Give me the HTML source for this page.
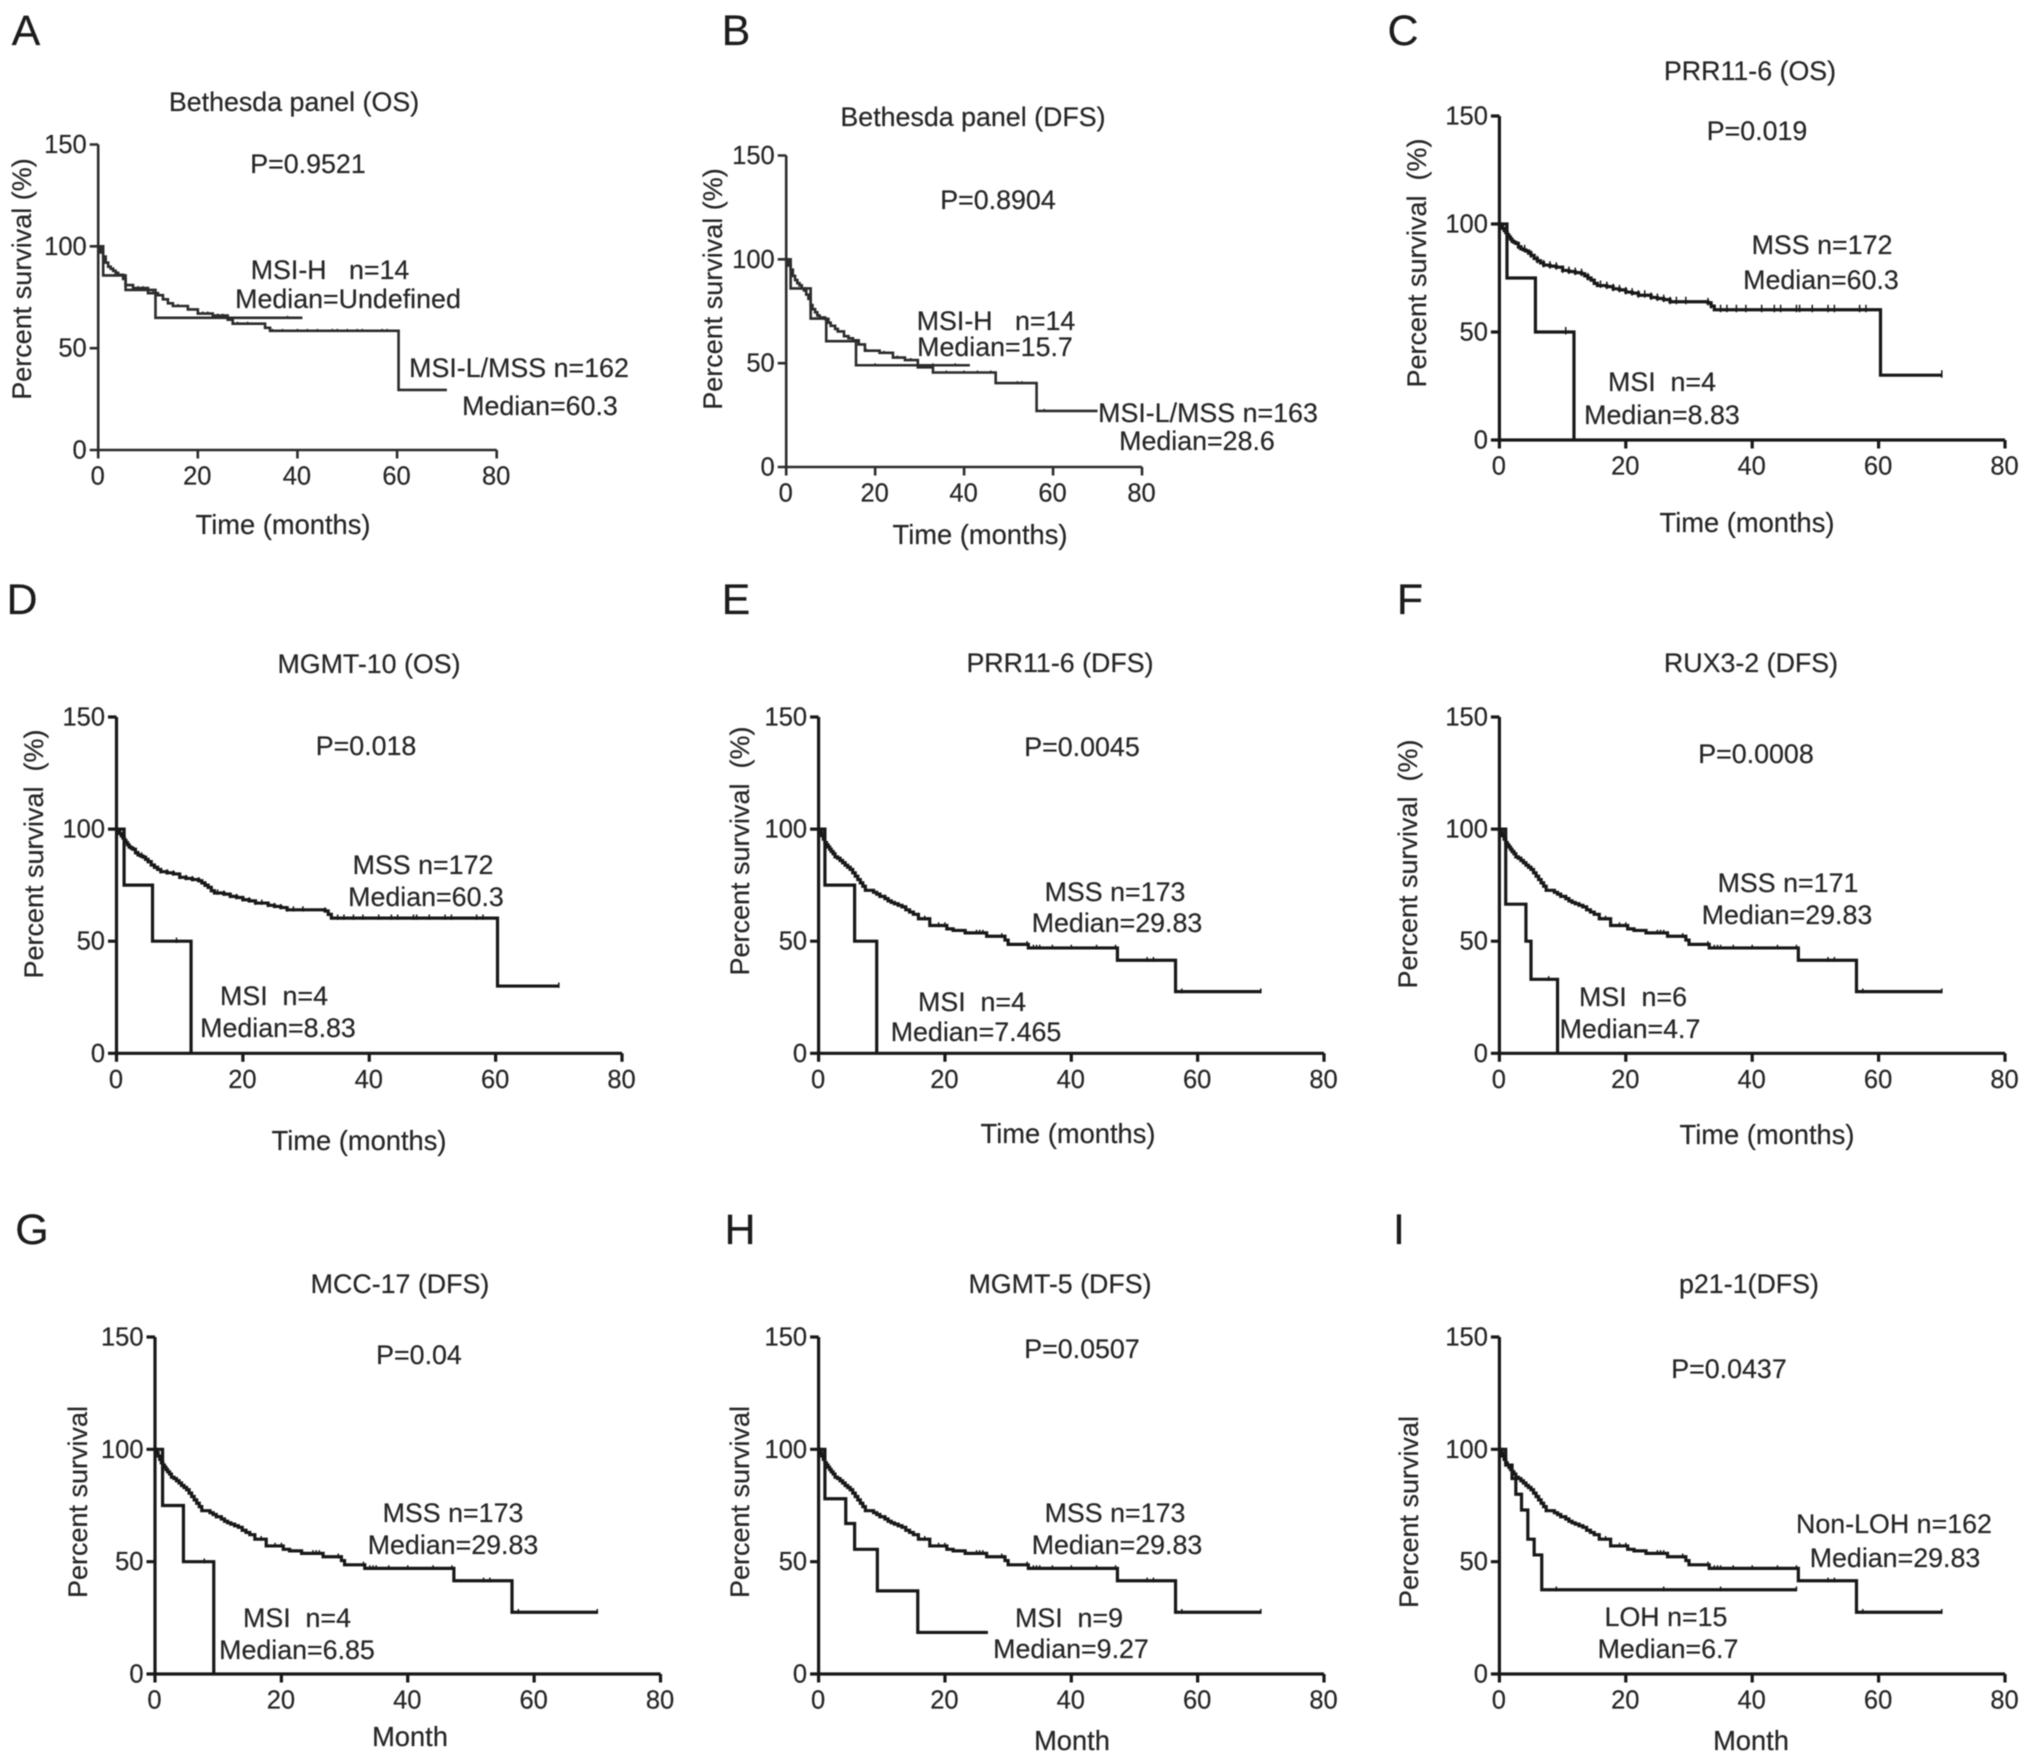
<!DOCTYPE html>
<html lang="en">
<head>
<meta charset="utf-8">
<title>Kaplan-Meier survival panels</title>
<style>
html,body{margin:0;padding:0;background:#fff;}
#figure{display:block;width:2031px;height:1762px;filter:blur(0.6px);}
text{font-family:"Liberation Sans",Arial,sans-serif;fill:#262626;font-size:26.8px;text-anchor:middle;stroke:#262626;stroke-width:0.2px;}
.letter{font-size:43px;fill:#1c1c1c;}
.ytitle{font-size:27px;}
.xtitle{font-size:27.3px;}
.tick-label{font-size:25.5px;}
</style>
</head>
<body>
<svg id="figure" xmlns="http://www.w3.org/2000/svg" width="2031" height="1762" viewBox="0 0 2031 1762">
<rect width="2031" height="1762" fill="#fff"/>
<g id="marks"></g>

<g>
<text class="letter" x="26" y="45">A</text>
<text x="294" y="111">Bethesda panel (OS)</text>
<text x="308" y="173">P=0.9521</text>
<text x="330" y="279">MSI-H&#160;&#160; n=14</text>
<text x="348" y="308">Median=Undefined</text>
<text x="519" y="377">MSI-L/MSS n=162</text>
<text x="540" y="415">Median=60.3</text>
<text class="xtitle" x="283" y="534">Time (months)</text>
<text class="ytitle" transform="translate(31,279) rotate(-90)">Percent survival (%)</text>
</g>

<g>
<text class="letter" x="736" y="45">B</text>
<text x="973" y="126">Bethesda panel (DFS)</text>
<text x="998" y="209">P=0.8904</text>
<text x="996" y="330">MSI-H&#160;&#160; n=14</text>
<text x="995" y="356">Median=15.7</text>
<text x="1208" y="422">MSI-L/MSS n=163</text>
<text x="1197" y="450">Median=28.6</text>
<text class="xtitle" x="980" y="544">Time (months)</text>
<text class="ytitle" transform="translate(722,289) rotate(-90)">Percent survival (%)</text>
</g>

<g>
<text class="letter" x="1403" y="45">C</text>
<text x="1750" y="80">PRR11-6 (OS)</text>
<text x="1757" y="140">P=0.019</text>
<text x="1822" y="254">MSS n=172</text>
<text x="1821" y="289">Median=60.3</text>
<text x="1662" y="391">MSI&#160; n=4</text>
<text x="1662" y="424">Median=8.83</text>
<text class="xtitle" x="1747" y="532">Time (months)</text>
<text class="ytitle" transform="translate(1426,263) rotate(-90)">Percent survival&#160; (%)</text>
</g>

<g>
<text class="letter" x="22" y="614">D</text>
<text x="369" y="673">MGMT-10 (OS)</text>
<text x="366" y="755">P=0.018</text>
<text x="423" y="874">MSS n=172</text>
<text x="426" y="906">Median=60.3</text>
<text x="274" y="1005">MSI&#160; n=4</text>
<text x="278" y="1037">Median=8.83</text>
<text class="xtitle" x="359" y="1150">Time (months)</text>
<text class="ytitle" transform="translate(43,854) rotate(-90)">Percent survival&#160; (%)</text>
</g>

<g>
<text class="letter" x="736" y="614">E</text>
<text x="1060" y="672">PRR11-6 (DFS)</text>
<text x="1082" y="756">P=0.0045</text>
<text x="1115" y="901">MSS n=173</text>
<text x="1117" y="932">Median=29.83</text>
<text x="972" y="1011">MSI&#160; n=4</text>
<text x="976" y="1041">Median=7.465</text>
<text class="xtitle" x="1068" y="1143">Time (months)</text>
<text class="ytitle" transform="translate(749,851) rotate(-90)">Percent survival&#160; (%)</text>
</g>

<g>
<text class="letter" x="1410" y="614">F</text>
<text x="1751" y="672">RUX3-2 (DFS)</text>
<text x="1756" y="763">P=0.0008</text>
<text x="1788" y="892">MSS n=171</text>
<text x="1787" y="924">Median=29.83</text>
<text x="1633" y="1006">MSI&#160; n=6</text>
<text x="1630" y="1038">Median=4.7</text>
<text class="xtitle" x="1767" y="1144">Time (months)</text>
<text class="ytitle" transform="translate(1417,864) rotate(-90)">Percent survival&#160; (%)</text>
</g>

<g>
<text class="letter" x="32" y="1244">G</text>
<text x="400" y="1293">MCC-17 (DFS)</text>
<text x="419" y="1364">P=0.04</text>
<text x="453" y="1522">MSS n=173</text>
<text x="453" y="1554">Median=29.83</text>
<text x="297" y="1627">MSI&#160; n=4</text>
<text x="297" y="1659">Median=6.85</text>
<text class="xtitle" x="410" y="1746">Month</text>
<text class="ytitle" transform="translate(87,1502) rotate(-90)">Percent survival</text>
</g>

<g>
<text class="letter" x="740" y="1244">H</text>
<text x="1060" y="1293">MGMT-5 (DFS)</text>
<text x="1082" y="1358">P=0.0507</text>
<text x="1115" y="1522">MSS n=173</text>
<text x="1117" y="1554">Median=29.83</text>
<text x="1069" y="1627">MSI&#160; n=9</text>
<text x="1071" y="1658">Median=9.27</text>
<text class="xtitle" x="1072" y="1750">Month</text>
<text class="ytitle" transform="translate(749,1502) rotate(-90)">Percent survival</text>
</g>

<g>
<text class="letter" x="1399" y="1244">I</text>
<text x="1749" y="1293">p21-1(DFS)</text>
<text x="1729" y="1378">P=0.0437</text>
<text x="1894" y="1533">Non-LOH n=162</text>
<text x="1895" y="1567">Median=29.83</text>
<text x="1666" y="1626">LOH n=15</text>
<text x="1668" y="1658">Median=6.7</text>
<text class="xtitle" x="1751" y="1750">Month</text>
<text class="ytitle" transform="translate(1418,1512) rotate(-90)">Percent survival</text>
</g>
</svg>

<script>
// ---- tick labels ----
const xTickValues = [0, 20, 40, 60, 80];
const yTickValues = [0, 50, 100, 150];

// ---- survival series: event time (months) and survival (%) after the event ----
const osMssTime = [0,0.25,0.5,0.75,1,1.25,1.5,1.75,2,2.3,2.6,3,3.4,3.8,4.2,4.6,5,5.5,6,6.5,7,8,9,10,11,12,13,13.5,14,14.5,15,15.5,17,18,19,20,21,22,24,25,26,27,33,33.5,34,60.3,70];
const osMssSurvival = [100,99,98,97,96,95,94,93,92,91.5,91,89.5,88.5,88,87.5,86.5,85.5,84,83,82,81,80.5,80,78.5,78,77.5,77,76,75,74,72.5,71.5,71,70,69.5,68.5,68,67,66,65.5,65,64,63.5,62,60.3,30,30];
const osMssCensor = [3,4,5,6,7,8,9,10,11,12,13,14,16,17,18,19,20,21,22,23,24,25,26,27,28,29.5,33,33.5,35,36,37.5,39,41.5,43.5,44.5,47,47.5,49.5,52,53,57,58,70];

const dfsMssTime = [0,0.25,0.5,0.75,1,1.25,1.5,1.75,2,2.3,2.6,3,3.4,3.8,4.2,4.6,5,5.4,5.8,6.2,6.6,7,7.4,8.7,9.2,9.7,10.5,11,11.5,12,12.6,13.2,13.8,14.4,15,15.8,17.6,20.3,21.3,23.2,26.6,29.5,30,33.2,47.3,56.5,70];
const dfsMssSurvival = [100,98.5,97,95.5,94,93,92,91,90,89,87.6,87,86,85,83.9,83,82,80.5,79,77.5,76,74.5,72.7,71.8,71,70,69,68,67.3,66.7,66,65.3,64,63,62,60,57,55.5,54.8,53.7,52.2,50.5,48.6,47,41.5,27.5,27.5];
const dfsMssCensor = [16.8,19,20,25,25.5,26,29,33,34,34.5,35,37,40,44,47,52,53,57.5,70];

const bethesdaOsMssTime = [0,0.5,1,1.5,2,2.5,3,3.5,4,5,5.5,7,10,12,13,14,15,18,20,23,26,27,33.5,34.5,60.3,70];
const bethesdaOsMssSurvival = [100,97,95,92,90,89,88,87,86,84,81,79.5,77,76,74,72,70.7,69,67,66,64,62,60,58.5,29.5,29.5];
const bethesdaOsMssCensor = [8,9,10,11,16,18,21,22,24,25,26,28,30,35,37,40,42,44,47,48,50,52,53,57,58];
const bethesdaOsMsiTime = [0,1,5.5,11.5,41];
const bethesdaOsMsiSurvival = [100,85.7,78.6,64.9,64.9];
const bethesdaOsMsiCensor = [38];

const bethesdaDfsMssTime = [0,0.5,1,1.5,2,2.5,3,3.5,4,4.5,5,5.5,5.9,6.5,7,7.5,8.7,9.5,10,11,11.6,13,14,15,16.3,17.7,21,24,26.7,29.6,33,47.1,56.3,70];
const bethesdaDfsMssSurvival = [100,97,95,92,90,88.5,87.5,86,85,83,81,78,76,74.5,73,72,71.3,69.5,68,66.5,65.3,63,62,61,59,56,55,52.7,51.5,48,45.5,40.4,27,27];
const bethesdaDfsMssCensor = [18,22,25,28,31,36,40,43,46,52,53,58];
const bethesdaDfsMsiTime = [0,1,5.5,9,15.7,41.3];
const bethesdaDfsMsiSurvival = [100,86,71.5,60.6,49,49];
const bethesdaDfsMsiCensor = [20,33,38];

const msiCTime = [0,1.2,5.7,11.8];
const msiCSurvival = [100,75,50,0];
const msiCCensor = [10.5];

const msiDTime = [0,1.2,5.7,11.8];
const msiDSurvival = [100,75,50,0];
const msiDCensor = [9.5];

const msiETime = [0,1,5.7,9.2];
const msiESurvival = [100,75,50,0];
const msiECensor = [];

const msiFTime = [0,1,4.2,5,9.2];
const msiFSurvival = [100,66.5,50,33,0];
const msiFCensor = [7.8];

const msiGTime = [0,1.2,4.5,9.3];
const msiGSurvival = [100,75,50,0];
const msiGCensor = [7.8];

const msiHTime = [0,1,4.3,5.7,9.3,15.7,26.8];
const msiHSurvival = [100,78,67,55.5,37,18.5,18.5];
const msiHCensor = [];

const lohITime = [0,1,2,2.6,3.5,4.5,5.5,6.7,47];
const lohISurvival = [100,93,87,80,73,60,53,37.5,37.5];
const lohICensor = [9,26,35,47];

// ---- layout only (pixel frames and stroke styling), no values ----
const panelLayouts = [
  {id:'a', x0:98.2,  x80:496.7,  y0:450,  y150:144.5,stroke:2.6, color:'#2c2c2c', censorSize:2, curves:[
    {name:'msi-l-mss', t:bethesdaOsMssTime, s:bethesdaOsMssSurvival, c:bethesdaOsMssCensor},
    {name:'msi-h', t:bethesdaOsMsiTime, s:bethesdaOsMsiSurvival, c:bethesdaOsMsiCensor}]},
  {id:'b', x0:786.2, x80:1142,   y0:467,  y150:155.5,stroke:2.6, color:'#2c2c2c', censorSize:2, curves:[
    {name:'msi-l-mss', t:bethesdaDfsMssTime, s:bethesdaDfsMssSurvival, c:bethesdaDfsMssCensor},
    {name:'msi-h', t:bethesdaDfsMsiTime, s:bethesdaDfsMsiSurvival, c:bethesdaDfsMsiCensor}]},
  {id:'c', x0:1499.4,x80:2005,   y0:440,  y150:116,  stroke:3.2, color:'#181818', censorSize:5, curves:[
    {name:'mss', t:osMssTime, s:osMssSurvival, c:osMssCensor},
    {name:'msi', t:msiCTime, s:msiCSurvival, c:msiCCensor}]},
  {id:'d', x0:116.5, x80:622,    y0:1053.3,y150:717, stroke:3.2, color:'#181818', censorSize:3.6, curves:[
    {name:'mss', t:osMssTime, s:osMssSurvival, c:osMssCensor},
    {name:'msi', t:msiDTime, s:msiDSurvival, c:msiDCensor}]},
  {id:'e', x0:818.6, x80:1324,   y0:1053.3,y150:717, stroke:3.2, color:'#181818', censorSize:3.2, curves:[
    {name:'mss', t:dfsMssTime, s:dfsMssSurvival, c:dfsMssCensor},
    {name:'msi', t:msiETime, s:msiESurvival, c:msiECensor}]},
  {id:'f', x0:1499.4,x80:2005,   y0:1053.3,y150:717, stroke:3.2, color:'#181818', censorSize:3.2, curves:[
    {name:'mss', t:dfsMssTime, s:dfsMssSurvival, c:dfsMssCensor},
    {name:'msi', t:msiFTime, s:msiFSurvival, c:msiFCensor}]},
  {id:'g', x0:155,   x80:660.5,  y0:1674, y150:1337, stroke:3.2, color:'#181818', censorSize:3.2, curves:[
    {name:'mss', t:dfsMssTime, s:dfsMssSurvival, c:dfsMssCensor},
    {name:'msi', t:msiGTime, s:msiGSurvival, c:msiGCensor}]},
  {id:'h', x0:818.6, x80:1324,   y0:1674, y150:1337, stroke:3.2, color:'#181818', censorSize:3.2, curves:[
    {name:'mss', t:dfsMssTime, s:dfsMssSurvival, c:dfsMssCensor},
    {name:'msi', t:msiHTime, s:msiHSurvival, c:msiHCensor}]},
  {id:'i', x0:1499.4,x80:2005,   y0:1674, y150:1337, stroke:3.2, color:'#181818', censorSize:3.2, curves:[
    {name:'non-loh', t:dfsMssTime, s:dfsMssSurvival, c:dfsMssCensor},
    {name:'loh', t:lohITime, s:lohISurvival, c:lohICensor}]}
];

const SVG_NS = 'http://www.w3.org/2000/svg';
const X_MAX = 80;
const Y_MAX = 150;
const TICK_LEN = 8.5;

function survivalAt(time, times, survival) {
  let value = survival[0];
  for (let i = 0; i < times.length; i++) {
    if (times[i] <= time) value = survival[i];
  }
  return value;
}

function drawPanel(p, root) {
  const xScale = function (v) { return p.x0 + (v / X_MAX) * (p.x80 - p.x0); };
  const yScale = function (v) { return p.y0 - (v / Y_MAX) * (p.y0 - p.y150); };

  const group = document.createElementNS(SVG_NS, 'g');
  
  
  root.appendChild(group);

  // axis lines
  const xAxis = document.createElementNS(SVG_NS, 'path');
  
  
  let xd = 'M' + xScale(0) + ' ' + yScale(0) + 'H' + xScale(X_MAX);
  xTickValues.forEach(function (v) { xd += 'M' + xScale(v) + ' ' + yScale(0) + 'v' + TICK_LEN; });
  xAxis.setAttribute('d', xd);
  xAxis.setAttribute('fill', 'none');
  xAxis.setAttribute('stroke', p.color);
  xAxis.setAttribute('stroke-width', p.stroke);
  group.appendChild(xAxis);

  const yAxis = document.createElementNS(SVG_NS, 'path');
  
  
  let yd = 'M' + xScale(0) + ' ' + yScale(0) + 'V' + yScale(Y_MAX);
  yTickValues.forEach(function (v) { yd += 'M' + xScale(0) + ' ' + yScale(v) + 'h' + (-TICK_LEN); });
  yAxis.setAttribute('d', yd);
  yAxis.setAttribute('fill', 'none');
  yAxis.setAttribute('stroke', p.color);
  yAxis.setAttribute('stroke-width', p.stroke);
  group.appendChild(yAxis);

  // tick labels
  xTickValues.forEach(function (v) {
    const label = document.createElementNS(SVG_NS, 'text');
    
    
    label.setAttribute('class', 'tick-label');
    label.setAttribute('x', xScale(v) - 0.5);
    label.setAttribute('y', yScale(0) + 34.5);
    label.textContent = String(v);
    group.appendChild(label);
  });
  yTickValues.forEach(function (v) {
    const label = document.createElementNS(SVG_NS, 'text');
    
    
    label.setAttribute('class', 'tick-label');
    label.setAttribute('x', xScale(0) - 11.5);
    label.setAttribute('y', yScale(v) + 8.5);
    label.style.textAnchor = 'end';
    label.textContent = String(v);
    group.appendChild(label);
  });

  // survival curves and censor ticks
  p.curves.forEach(function (curve) {
    let d = 'M' + xScale(0) + ' ' + yScale(curve.s[0]);
    for (let i = 1; i < curve.t.length; i++) {
      d += 'H' + xScale(curve.t[i]) + 'V' + yScale(curve.s[i]);
    }
    const line = document.createElementNS(SVG_NS, 'path');
    
    
    line.setAttribute('d', d);
    line.setAttribute('fill', 'none');
    line.setAttribute('stroke', p.color);
    line.setAttribute('stroke-width', p.stroke);
    group.appendChild(line);

    let cd = '';
    curve.c.forEach(function (time) {
      const value = survivalAt(time, curve.t, curve.s);
      cd += 'M' + xScale(time) + ' ' + (yScale(value) - p.censorSize) + 'v' + (1.5 * p.censorSize);
    });
    const censors = document.createElementNS(SVG_NS, 'path');
    
    
    censors.setAttribute('d', cd);
    censors.setAttribute('fill', 'none');
    censors.setAttribute('stroke', p.color);
    censors.setAttribute('stroke-width', 1.5);
    group.appendChild(censors);
  });
}

const marksRoot = document.getElementById('marks');
panelLayouts.forEach(function (p) { drawPanel(p, marksRoot); });
</script>
</body>
</html>
